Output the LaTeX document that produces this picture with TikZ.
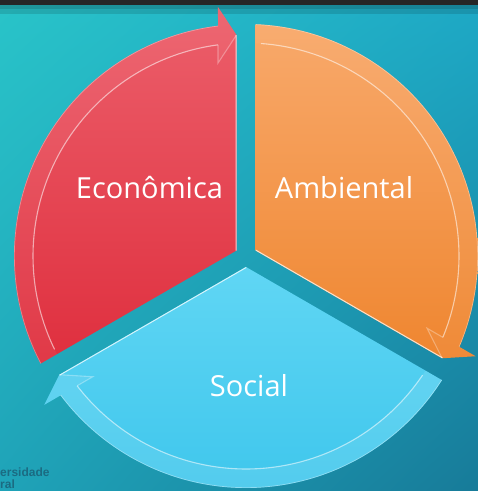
\documentclass[tikz,border=0pt]{standalone}
\usepackage{fontspec}
\usetikzlibrary{shadings}
\setmainfont{Open Sans}
\newfontfamily\logofont{Liberation Sans}
\definecolor{bgTL}{HTML}{29C4C9}
\definecolor{bgTR}{HTML}{1EA9C6}
\definecolor{bgBL}{HTML}{1FA3B8}
\definecolor{bgBR}{HTML}{177B99}
\definecolor{barGray}{HTML}{262626}
\definecolor{redTop}{HTML}{EC5F6B}
\definecolor{redBot}{HTML}{DF2F3E}
\definecolor{oraTop}{HTML}{F8A96B}
\definecolor{oraBot}{HTML}{EF8630}
\definecolor{bluTop}{HTML}{60D6F4}
\definecolor{bluBot}{HTML}{3EC6EC}
\definecolor{logoCol}{HTML}{1B6B82}
\tikzset{
  sectorpath/.style={insert path={(150+#1:10.97) -- (92.46+#1:221.2) -- (96.42+#1:250.6) -- (96.93+#1:232)
     arc[start angle=96.93+#1, end angle=207.65+#1, radius=232] -- cycle}},
  bandpath/.style={insert path={(207.5+#1:213) -- (207.65+#1:232)
     arc[start angle=207.65+#1, end angle=96.93+#1, radius=232] -- (96.42+#1:250.6) -- (92.46+#1:221.2)
     -- (98.25+#1:195) -- (97.55+#1:213) arc[start angle=97.55+#1, end angle=207.5+#1, radius=213] -- cycle}},
  labeltext/.style={text=white, font=\fontsize{29}{31}\selectfont, inner sep=0pt, anchor=base},
  logotext/.style={text=logoCol, font=\logofont\bfseries\fontsize{12}{12}\selectfont, inner sep=0pt, anchor=base west},
  hilite/.style={draw=white, line width=1.1pt},
}
\newcommand\cyclepart[4]{%
  \shade[top color=#2, bottom color=#3, sectorpath=#1];
  \begin{scope}
    \clip[sectorpath=#1];
    \fill[white, opacity=#4, bandpath=#1];
    \draw[hilite, opacity=.55] (97.55+#1:213) arc[start angle=97.55+#1, end angle=206+#1, radius=213];
    \draw[hilite, opacity=.3] (97.55+#1:213) -- (98.25+#1:195) -- (92.46+#1:221.2);
    \draw[hilite, opacity=.75, line width=2pt] (150+#1:10.97) -- (92.46+#1:221.2);
    \draw[white, opacity=.35, line width=1.4pt] (96.93+#1:232) arc[start angle=96.93+#1, end angle=207.65+#1, radius=232];
  \end{scope}}
\begin{document}
\begin{tikzpicture}[x=1pt,y=1pt]
\useasboundingbox (0,0) rectangle (478,491);
\shade[upper left=bgTL, upper right=bgTR, lower left=bgBL, lower right=bgBR] (0,0) rectangle (478,491);
\fill[black, opacity=.12] (0,477) rectangle (478,486);
\fill[black, opacity=.12] (0,482) rectangle (478,486);
\fill[barGray] (0,486) rectangle (478,491);
\begin{scope}[shift={(246,235)}]
  \cyclepart{0}{redTop}{redBot}{0.05}
  \cyclepart{-120}{oraTop}{oraBot}{0.04}
  \cyclepart{120}{bluTop}{bluBot}{0.10}
\end{scope}
\node[labeltext] (econ) at (149.5,292) {Econômica};
\node[labeltext] (amb) at (344,292.5) {Ambiental};
\node[labeltext] (soc) at (249,94.3) {Social};
\node[logotext] (logoA) at (0,14.5) {ersidade};
\node[logotext] (logoB) at (0,2.5) {ral};
\end{tikzpicture}
\end{document}
